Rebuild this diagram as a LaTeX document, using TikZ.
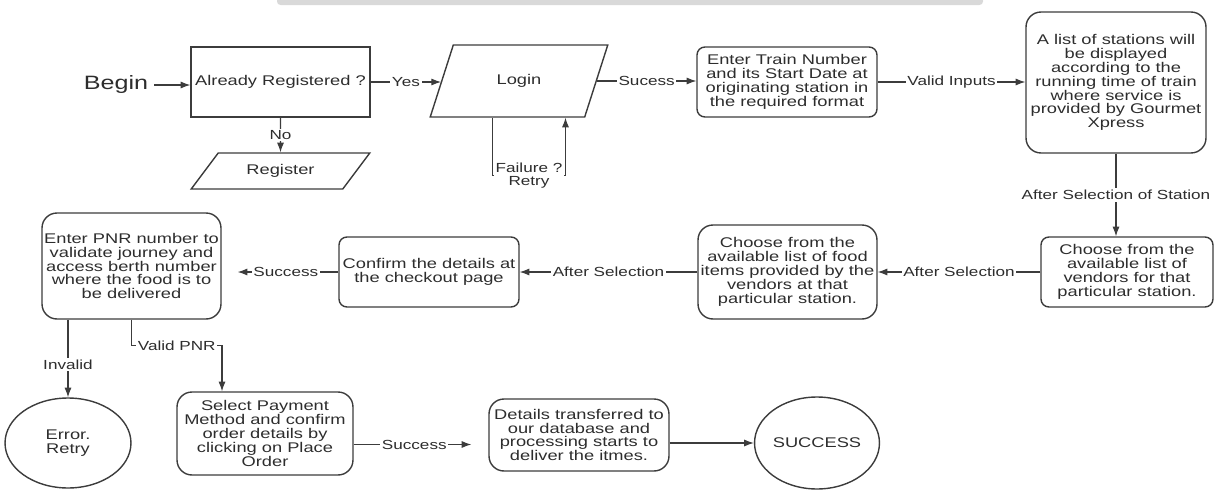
\documentclass[tikz,border=0pt]{standalone}
\usepackage{fontspec}
\setmainfont{Liberation Sans}[FakeStretch=1.3]
\usepackage{tikz}
\usetikzlibrary{arrows.meta,calc,shapes.geometric}
\definecolor{figline}{RGB}{60,60,60}
\definecolor{figtext}{RGB}{45,45,45}
\newcommand\boxfont{\fontsize{8}{7.9}\selectfont}
\newcommand\labfont{\fontsize{7.5}{7.5}\selectfont}
\tikzset{
  bx/.style   ={draw=figline, line width=0.8pt, align=center, font=\boxfont, text=figtext, inner sep=1pt},
  rbx/.style  ={bx, rounded corners=4.5pt},
  rbxl/.style ={bx, rounded corners=8.5pt},
  io/.style   ={bx, trapezium, trapezium stretches=true},
  ov/.style   ={bx, ellipse, inner sep=0pt},
  lab/.style  ={font=\labfont, text=figtext, fill=white, inner sep=1pt, align=center},
  ln/.style   ={draw=figline, line width=0.6pt},
  arr/.style  ={ln, -{Latex[length=5.5pt,width=4pt]}},
}

\begin{document}
\begin{tikzpicture}[x=0.02cm,y=-0.02cm]
  \useasboundingbox (0,0) rectangle (1214,490);
  \fill[black!15,rounded corners=2pt] (277,-3) rectangle (983,5);
  % top row
  \node[font=\fontsize{11}{13}\selectfont, text=figtext] (begin) at (116,85) {Begin};
  \node[bx, minimum width=3.58cm, minimum height=1.4cm] (reg) at (280.5,82) {Already Registered ?};
  \node[io, trapezium left angle=47, trapezium right angle=133, minimum width=3.58cm, minimum height=0.72cm] (signup) at (280.5,171) {Register};
  \node[io, trapezium left angle=63, trapezium right angle=117, minimum width=3.56cm, minimum height=1.44cm] (login) at (519,81) {Login};
  \node[rbx, minimum width=3.6cm, minimum height=1.4cm] (enter) at (787,82) {Enter Train Number\\and its Start Date at\\originating station in\\the required format};
  \node[rbxl, minimum width=3.6cm, minimum height=2.82cm] (list) at (1116,82.5) {A list of stations will\\be displayed\\according to the\\running time of train\\where service is\\provided by Gourmet\\Xpress};
  % middle row
  \node[rbx, minimum width=3.44cm, minimum height=1.4cm] (ven) at (1127,272) {Choose from the\\available list of\\vendors for that\\particular station.};
  \node[rbxl, minimum width=3.58cm, minimum height=1.88cm] (food) at (787.5,272) {Choose from the\\available list of food\\items provided by the\\vendors at that\\particular station.};
  \node[rbx, minimum width=3.6cm, minimum height=1.4cm] (conf) at (429,272) {Confirm the details at\\the checkout page};
  \node[rbxl, minimum width=3.58cm, minimum height=2.12cm] (pnr) at (131.5,266) {Enter PNR number to\\validate journey and\\access berth number\\where the food is to\\be delivered};
  % bottom row
  \node[ov, minimum width=2.52cm, minimum height=1.8cm] (err) at (68,443) {Error.\\Retry};
  \node[rbxl, minimum width=3.52cm, minimum height=1.66cm] (sel) at (265,433.5) {Select Payment\\Method and confirm\\order details by\\clicking on Place\\Order};
  \node[rbxl, minimum width=3.6cm, minimum height=1.44cm] (det) at (579,435) {Details transferred to\\our database and\\processing starts to\\deliver the itmes.};
  \node[ov, minimum width=2.4cm, minimum height=1.84cm] (suc) at (817,443) {SUCCESS};
  % connectors
  \draw[arr] (begin.east) -- (begin.east -| reg.west);
  \draw[arr] (reg.east) -- node[lab]{Yes} (reg.east -| login.west);
  \draw[arr] (reg.south) -- node[lab]{No} (signup.north);
  \draw[arr] (login.east) -- node[lab]{Sucess} (login.east -| enter.west);
  \draw[arr] ([xshift=-0.53cm]login.south) -- ++(0,58) -| node[lab,pos=0.25]{Failure ?\\Retry} ([xshift=0.93cm]login.south);
  \draw[arr] (enter.east) -- node[lab]{Valid Inputs} (enter.east -| list.west);
  \draw[arr] (list.south) -- node[lab]{After Selection of Station} (list.south |- ven.north);
  \draw[arr] (ven.west) -- node[lab]{After Selection} (ven.west -| food.east);
  \draw[arr] (food.west) -- node[lab]{After Selection} (food.west -| conf.east);
  \draw[arr,shorten >=0.32cm] (conf.west) -- node[lab,pos=0.45]{Success} (conf.west -| pnr.east);
  \draw[arr] (pnr.south -| err.north) -- node[lab,pos=0.58]{Invalid} (err.north);
  \draw[arr] (pnr.south) -- ++(0,26) -| node[lab,pos=0.25]{Valid PNR} ([xshift=-0.86cm]sel.north);
  \draw[arr,shorten >=0.34cm] ([yshift=-0.22cm]sel.east) -- node[lab,pos=0.45]{Success} ([yshift=-0.22cm]sel.east -| det.west);
  \draw[arr] (det.east |- suc.west) -- (suc.west);
\end{tikzpicture}
\end{document}
